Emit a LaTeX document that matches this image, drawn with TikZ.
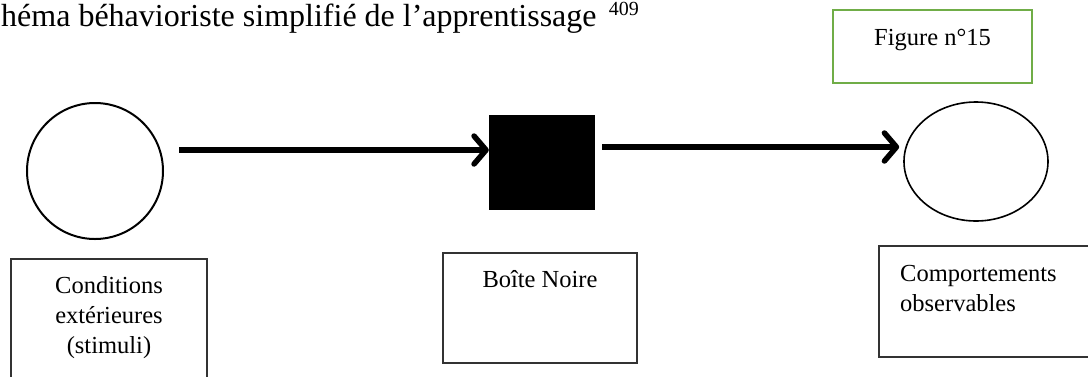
\documentclass[tikz,border=0pt]{standalone}
\usepackage{fontspec}
\setmainfont{Liberation Serif}
\usetikzlibrary{positioning,arrows.meta,shapes.geometric}
\definecolor{figgreen}{RGB}{112,173,71}

\begin{document}
\begin{tikzpicture}[x=1pt, y=-1pt,
  flow/.style={line width=5.5pt, -{Straight Barb[length=12pt,width=28pt,round]}},
  labelbox/.style={draw=black!80, line width=1.6pt, rectangle, inner sep=0pt},
  labeltext/.style={font=\fontsize{24.5}{30}\selectfont, inner sep=0pt, align=center}]
 \useasboundingbox (0,0) rectangle (1088,376);
 \clip (0,0) rectangle (1088,376);

 % title, cut at the left as in the scan
 \node[anchor=base west, inner sep=0pt, font=\fontsize{32}{36}\selectfont] (title) at (1,26) {héma béhavioriste simplifié de l’apprentissage};
 \node[anchor=base west, inner sep=0pt, font=\fontsize{20}{24}\selectfont] (note) at ([xshift=12pt,yshift=11pt]title.base east) {409};

 \node[draw=figgreen, line width=2.2pt, minimum width=199pt, minimum height=73pt, inner sep=0pt] (figbox) at (932.5,46.5) {};
 \node[labeltext, anchor=base] (figtext) at ([yshift=-37pt]figbox.north) {Figure n°15};

 \node[circle, draw, line width=2pt, minimum size=136pt, inner sep=0pt] (stim) at (95,171) {};
 \node[rectangle, fill=black, minimum width=106pt, minimum height=95pt, inner sep=0pt] (bn) at (542,162.5) {};
 \node[ellipse, draw, line width=1.6pt, minimum width=144pt, minimum height=119pt, inner sep=0pt] (obs) at (976,161.5) {};

 \draw[flow] ([xshift=15pt,yshift=21pt]stim.east) -- ([yshift=12.5pt]bn.west);
 \draw[flow] ([xshift=7pt,yshift=15.5pt]bn.east) -- ([xshift=-4pt,yshift=14.5pt]obs.west);

 \node[labelbox, minimum width=196pt, minimum height=150pt, anchor=north] (cond) at (109,258) {};
 \node[labeltext, below=18pt of cond.north] (condtext) {Conditions\\extérieures\\(stimuli)};

 \node[labelbox, minimum width=194pt, minimum height=110pt] (noire) at (540,308) {};
 \node[labeltext, anchor=base] (noiretext) at ([yshift=-35pt]noire.north) {Boîte Noire};

 \node[labelbox, minimum width=240pt, minimum height=111pt, anchor=north west] (comp) at (878,245) {};
 \node[labeltext, align=left, anchor=north west] (comptext) at ([xshift=22pt,yshift=-20pt]comp.north west) {Comportements\\observables};
\end{tikzpicture}
\end{document}
